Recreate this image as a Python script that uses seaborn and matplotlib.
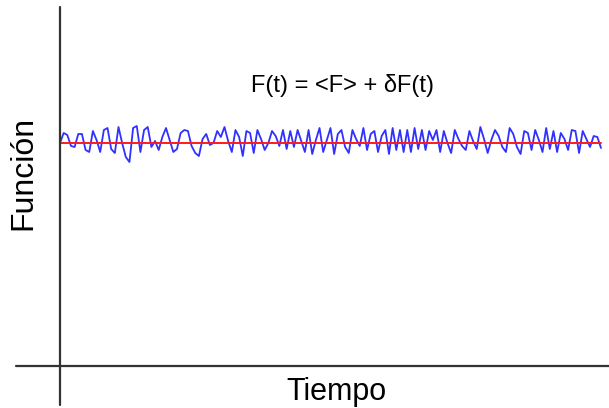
import numpy as np
import pandas as pd
import seaborn as sns
import matplotlib.pyplot as plt

# mean value <F> and fluctuation dF(t) (units of 0.01)
f_mean = 2.23
delta_f = [
    0, 10, 8, -3, -4, 9, 9, -7, -9, 12, 3, -9, 13, 15, -6, -10, 16, 0, -14, -19, 15, 17, -9, 13, 16,
    -4, 2, -7, 6, 15, 3, -9, -6, 10, 13, 12, -3, -10, -13, 4, 9, -2, 0, 12, 6, 16, 2, -9, 13, 6,
    -13, 12, 10, -10, 13, 4, -7, 0, 12, 7, -3, 13, -6, 12, -4, 13, 2, -9, 13, -11, 3, 15, -9, 3, 15,
    -11, 9, 13, -4, -10, 13, 4, -3, 15, -7, 9, 12, -9, 7, 13, -11, 15, -7, 13, -9, 13, -9, 15, -6, 13,
    -7, 12, 3, 13, -9, 12, 0, -10, 13, 4, -3, -7, 12, 2, -6, 16, 4, -10, 3, 13, 7, -4, -9, 15, 9,
    -4, -11, 12, 10, -7, 13, 3, -9, 15, -6, 12, -9, 10, 4, -7, 13, 12, -10, 12, 4, -4, 7, 6, -5,
]

time = np.arange(len(delta_f))
df = pd.DataFrame({
    "tiempo": time,
    "F": f_mean + np.array(delta_f) / 100.0,
    "media": f_mean,
})

sns.set_style("white")
plt.rcParams["font.family"] = ["Liberation Sans", "DejaVu Sans"]

fig = plt.figure(figsize=(6.09, 4.08), dpi=100)
ax = fig.add_axes([0, 0, 1, 1])

sns.lineplot(data=df, x="tiempo", y="F", color="#3030ff", lw=1.3, ax=ax)
sns.lineplot(data=df, x="tiempo", y="media", color="#ff1a1a", lw=1.4, ax=ax)

# axes drawn as crossing lines, like a hand-made sketch
ax.axhline(0, xmin=16 / 609, color="#333333", lw=1.6)
ax.axvline(0, ymin=3 / 408, ymax=401 / 408, color="#333333", lw=1.6)

# map data so that the origin sits near the lower-left of the picture
n = len(delta_f) - 1
px = 541.0 / n
ax.set_xlim(-60 / px, 549 / px)
ax.set_ylim(-0.42, 3.66)
ax.set_axis_off()

fig.text(0.553, 0.04, "Tiempo", ha="center", va="center", fontsize=22, color="black")
fig.text(0.038, 0.575, "Función", ha="center", va="center", rotation=90, fontsize=23, color="black")
fig.text(0.563, 0.79, "F(t) = <F> + δF(t)", ha="center", va="center", fontsize=17, color="black")

fig.savefig("out.png", dpi=100)
